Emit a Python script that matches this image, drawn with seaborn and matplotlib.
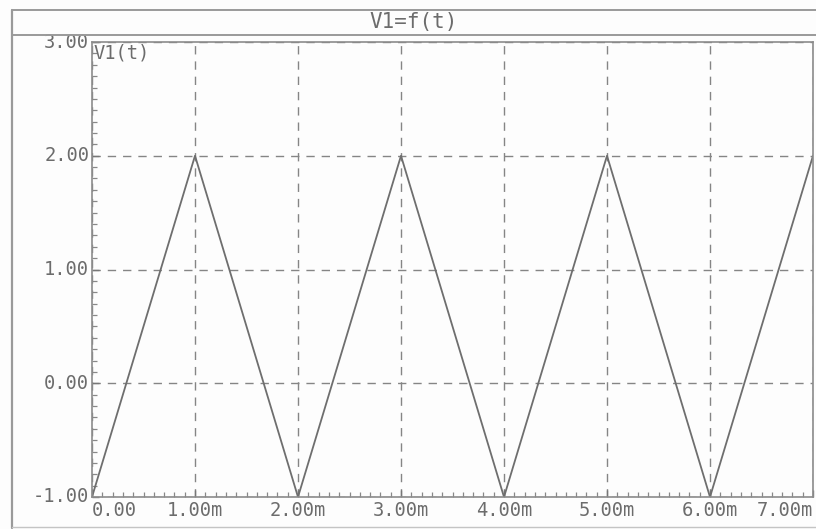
import matplotlib
matplotlib.use("Agg")
import matplotlib.pyplot as plt
from matplotlib.ticker import FixedLocator, MultipleLocator
from matplotlib.lines import Line2D
import seaborn as sns
import pandas as pd

# Triangle wave samples: time in seconds, voltage in volts
time_s = [0.0, 1e-3, 2e-3, 3e-3, 4e-3, 5e-3, 6e-3, 7e-3]
v1_volts = [-1.0, 2.0, -1.0, 2.0, -1.0, 2.0, -1.0, 2.0]

x_ticks = [0.0, 1e-3, 2e-3, 3e-3, 4e-3, 5e-3, 6e-3, 7e-3]
x_tick_labels = ["0.00", "1.00m", "2.00m", "3.00m", "4.00m", "5.00m", "6.00m", "7.00m"]
y_ticks = [-1.0, 0.0, 1.0, 2.0, 3.0]
y_tick_labels = ["-1.00", "0.00", "1.00", "2.00", "3.00"]

title_text = "V1=f(t)"
trace_label = "V1(t)"

df = pd.DataFrame({"t": time_s, "v1": v1_volts})

sns.set_style("white")
plt.rcParams["font.family"] = ["DejaVu Sans Mono", "DejaVu Sans"]

ink = "#6c6c6c"
grid_ink = "#858585"
frame_ink = "#9a9a9a"
W, H = 816, 529
bg = "#fdfdfd"

fig = plt.figure(figsize=(W / 100, H / 100), dpi=100)
fig.patch.set_facecolor(bg)

def fig_line(x0, y0, x1, y1, **kw):
    fig.add_artist(Line2D([x0 / W, x1 / W], [1 - y0 / H, 1 - y1 / H],
                          transform=fig.transFigure, **kw))

# outer frame (left, top, bottom) and title bar separator
fig_line(12, 10, 12, 528, color=frame_ink, linewidth=1.6)
fig_line(12, 10, W, 10, color=frame_ink, linewidth=1.4)
fig_line(12, 527, W, 527, color="#c4c4c4", linewidth=1.0)
fig_line(12, 35, W, 35, color=frame_ink, linewidth=1.4)
fig.text(414 / W, 1 - 22 / H, title_text, ha="center", va="center",
         fontsize=15, color=ink)

left, right = 92 / W, 813 / W
top, bottom = 1 - 42 / H, 1 - 497 / H
ax = fig.add_axes([left, bottom, right - left, top - bottom])
ax.set_facecolor(bg)

sns.lineplot(data=df, x="t", y="v1", ax=ax, color="#6e6e6e", linewidth=1.3)

ax.set_xlim(0, 7e-3)
ax.set_ylim(-1.0, 3.0)
ax.xaxis.set_major_locator(FixedLocator(x_ticks))
ax.yaxis.set_major_locator(FixedLocator(y_ticks))
ax.xaxis.set_minor_locator(MultipleLocator(1e-4))
ax.yaxis.set_minor_locator(MultipleLocator(0.1))
ax.set_xticklabels(x_tick_labels)
ax.set_yticklabels(y_tick_labels)
ax.set_xlabel("")
ax.set_ylabel("")

ax.grid(True, which="major", color=grid_ink, linestyle=(0, (6, 5)), linewidth=1.0)

ax.tick_params(axis="both", which="major", direction="in", length=5, width=1.0,
               color="#777777", labelsize=13.5, labelcolor=ink)
ax.tick_params(axis="both", which="minor", direction="in", length=3.5, width=0.9,
               color="#888888")
ax.tick_params(axis="x", which="both", bottom=True, top=False, pad=3)
ax.tick_params(axis="y", which="both", left=True, right=False, pad=2)

labels = ax.get_xticklabels()
labels[0].set_ha("left")
labels[-1].set_ha("right")
for lab in ax.get_yticklabels():
    lab.set_va("center")

for side in ["left", "bottom", "top", "right"]:
    ax.spines[side].set_color("#8c8c8c")
    ax.spines[side].set_linewidth(1.2)

ax.text(0.002, 0.997, trace_label, transform=ax.transAxes, ha="left", va="top",
        fontsize=13.5, color=ink)

fig.savefig("out.png", dpi=100, facecolor=fig.get_facecolor())
